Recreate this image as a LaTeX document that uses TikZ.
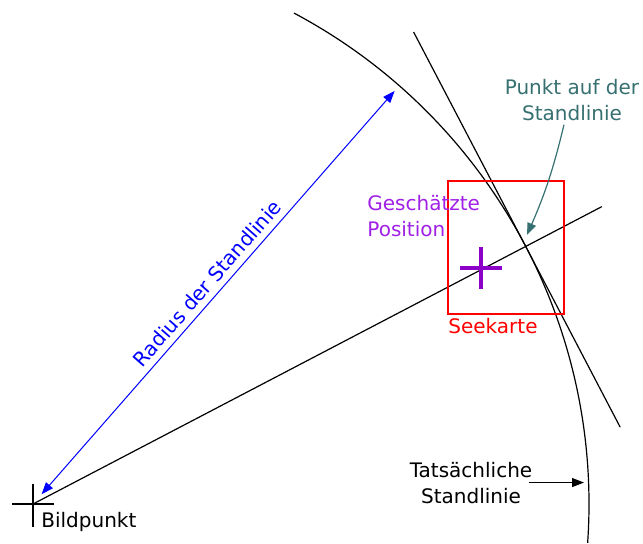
\documentclass[tikz,border=0pt]{standalone}
\usepackage{fontspec}
\setmainfont{DejaVu Sans}
\usetikzlibrary{arrows.meta}
\definecolor{lila}{RGB}{160,32,230}
\definecolor{lilakreuz}{RGB}{140,0,200}
\definecolor{petrol}{RGB}{55,112,112}

\begin{document}
\begin{tikzpicture}[x=0.5pt,y=-0.5pt, % Pixelmass, y nach unten
    font=\fontsize{10}{13}\selectfont,
    beschriftung/.style={inner sep=0pt},
    pfeil/.style={-{Triangle[length=6pt,width=4.5pt]}},
    doppelpfeil/.style={{Triangle[length=6pt,width=4.5pt]}-{Triangle[length=6pt,width=4.5pt]}}]
    \useasboundingbox (0,0) rectangle (643,543);

    % Bildpunkt und Punkt auf der Standlinie
    \coordinate (B) at (33,504);
    \coordinate (P) at ([shift=(-27.6:556)]B);

    % Tatsaechliche Standlinie: Kreis um den Bildpunkt, Radius 556
    \draw[line width=0.6pt] ([shift=(-62:556)]B) arc [start angle=-62, end angle=4, radius=556];

    % Richtung zum Bildpunkt
    \draw[line width=0.6pt] (B) -- ([shift=(-27.6:642)]B);

    % Tangente im Punkt P (senkrecht zur Richtung)
    \draw[line width=0.6pt] ([shift=(-117.6:242)]P) -- ([shift=(62.4:204)]P);

    % Radius der Standlinie
    \draw[blue, line width=0.5pt, doppelpfeil] ([shift=(-48.8:13)]B) -- ([shift=(-48.8:549)]B)
        node[midway, sloped, above=3pt, beschriftung, text=blue] (radius) {Radius der Standlinie};

    % Seekarte
    \draw[red, line width=0.6pt] (448,181) rectangle (564,314);
    \node[beschriftung, anchor=base west, text=red] (seekarte) at (448,333) {Seekarte};

    % Geschaetzte Position
    \coordinate (G) at (481,268);
    \draw[lilakreuz, line width=2.2pt] ([shift={(-21,0)}]G) -- ([shift={(21,0)}]G);
    \draw[lilakreuz, line width=2.2pt] ([shift={(0,-21)}]G) -- ([shift={(0,21)}]G);
    \node[beschriftung, anchor=base west, align=left, text=lila] (geschaetzt) at (367,236) {Geschätzte\\Position};

    % Bildpunkt
    \draw[line width=1.3pt] ([shift={(-21,0)}]B) -- ([shift={(21,0)}]B);
    \draw[line width=1.3pt] ([shift={(0,-20)}]B) -- ([shift={(0,23)}]B);
    \node[beschriftung, anchor=base west] (bildpunkt) at (41,527) {Bildpunkt};

    % Punkt auf der Standlinie
    \coordinate (pspitze) at (527,235);
    \node[beschriftung, anchor=base, align=center, text=petrol] (punkt) at (572,120) {Punkt auf der\\Standlinie};
    \draw[petrol, line width=0.6pt, pfeil] ([xshift=-4pt,yshift=-2pt]punkt.south) to[bend left=5] (pspitze);

    % Tatsaechliche Standlinie
    \coordinate (tspitze) at (584,512);
    \node[beschriftung, anchor=base, align=center] (tats) at (471,503) {Tatsächliche\\Standlinie};
    \draw[line width=0.6pt, pfeil] ([xshift=-2pt]tats.east) -- (tats.east -| tspitze);
\end{tikzpicture}
\end{document}
